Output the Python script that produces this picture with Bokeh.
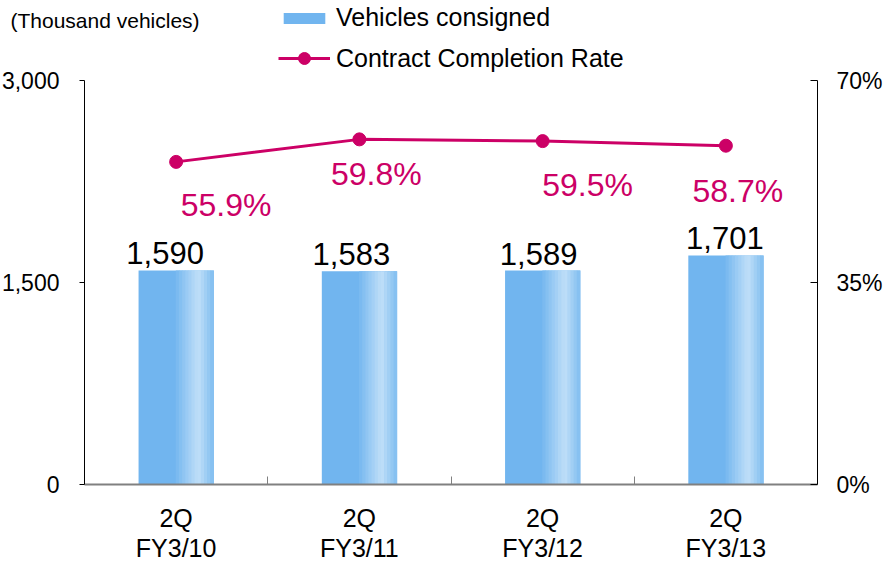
from bokeh.plotting import figure
from bokeh.models import (ColumnDataSource, Range1d, LinearAxis, FixedTicker,
                          NumeralTickFormatter, PrintfTickFormatter, Legend, LegendItem, Label)
from bokeh.transform import dodge
from bokeh.core.properties import value
from bokeh.embed import file_html
from bokeh.resources import INLINE

# ---- data ----
categories = ["2Q\nFY3/10", "2Q\nFY3/11", "2Q\nFY3/12", "2Q\nFY3/13"]
vehicles = [1590, 1583, 1589, 1701]          # thousand vehicles
completion_rate = [55.9, 59.8, 59.5, 58.7]   # %
left_ticks = [0, 1500, 3000]
right_ticks = [0, 35, 70]
left_max, right_max = 3000, 70

# ---- style nudges for labels (screen px) ----
bar_label_dx = [-11, -8, -4, -1]
pct_label_dx = [50, 17, 45, 12]
pct_label_dy = [43, 35, 44, 45]

FONT = "'Liberation Sans', Arial, sans-serif"
PINK = "#CC0066"
BAR_W = 0.41

# ---- layout (px) ----
W, H = 894, 562
AX_L, AX_R = 84, 817      # canvas x of left / right axis
AX_T, AX_B = 80, 484      # canvas y of top tick / baseline
ncat = len(categories)
px_x = (AX_R - AX_L) / ncat
px_y = (AX_B - AX_T) / left_max
x_range = Range1d(-AX_L / px_x, ncat + (W - AX_R) / px_x)
y_range = Range1d(-(H - AX_B) / px_y, left_max + AX_T / px_y)
k = right_max / left_max

xs = [i + 0.5 for i in range(ncat)]
src = ColumnDataSource(dict(
    x=xs, v=vehicles, r=completion_rate,
    vlab=[f"{v:,}" for v in vehicles],
    rlab=[f"{r:.1f}%" for r in completion_rate],
    bdx=bar_label_dx, pdx=pct_label_dx, pdy=pct_label_dy,
))

p = figure(width=W, height=H, x_range=x_range, y_range=y_range,
           output_backend="svg", toolbar_location=None,
           min_border=0, min_border_left=0, min_border_right=0,
           min_border_top=0, min_border_bottom=0, x_axis_type=None, y_axis_type=None)
p.outline_line_color = None
p.grid.grid_line_color = None
p.background_fill_color = "white"
p.border_fill_color = "white"

# bars: base + gradient strips
base = p.vbar(x="x", top="v", width=BAR_W, source=src, fill_color="#71B5EF", line_color=None)

def mix(a, b, t):
    return "#%02x%02x%02x" % tuple(int(round(a[i] + (b[i] - a[i]) * t)) for i in range(3))

c0, c1, c2 = (113, 181, 239), (192, 223, 248), (128, 189, 240)
n = 24
for j in range(n):
    t = (j + 0.5) / n
    if t < 0.48:
        continue
    if t < 0.8:
        col = mix(c0, c1, (t - 0.48) / 0.32)
    else:
        col = mix(c1, c2, (t - 0.8) / 0.2)
    off = -BAR_W / 2 + (j + 0.5) * BAR_W / n
    p.vbar(x=dodge("x", off, range=p.x_range), top="v", width=BAR_W / n * 1.2,
           source=src, fill_color=col, line_color=None)

# right axis range
p.extra_y_ranges = {"pct": Range1d(y_range.start * k, y_range.end * k)}

line_r = p.line(x="x", y="r", y_range_name="pct", source=src, line_color=PINK, line_width=3)
dot_r = p.scatter(x="x", y="r", y_range_name="pct", source=src, marker="circle", size=13,
                  fill_color=PINK, line_color=PINK)

# value labels
p.text(x="x", y="v", text="vlab", x_offset="bdx", y_offset=-6, source=src,
       text_align="center", text_baseline="bottom", text_font=value(FONT),
       text_font_size="31px", text_color="black")
p.text(x="x", y="r", text="rlab", x_offset="pdx", y_offset="pdy", y_range_name="pct", source=src,
       text_align="center", text_baseline="middle", text_font=value(FONT),
       text_font_size="32px", text_color=PINK)

# x axis
xa = LinearAxis(fixed_location=0, bounds=(0, ncat),
                ticker=FixedTicker(ticks=xs, minor_ticks=[1, 2, 3]))
xa.major_label_overrides = {x: c for x, c in zip(xs, categories)}
xa.major_tick_line_color = None
xa.minor_tick_in = 8
xa.minor_tick_out = 0
xa.minor_tick_line_color = "#808080"
xa.axis_line_color = "#808080"
xa.axis_line_width = 2
xa.major_label_text_font = FONT
xa.major_label_text_font_size = "25px"
xa.major_label_text_line_height = 1.1
xa.major_label_standoff = 13
xa.major_label_text_color = "black"
p.add_layout(xa, "below")

# left axis
ya = LinearAxis(fixed_location=0, bounds=(0, left_max), ticker=FixedTicker(ticks=left_ticks),
                formatter=NumeralTickFormatter(format="0,0"))
ya.major_tick_out = 5
ya.major_tick_in = 0
ya.minor_tick_line_color = None
ya.axis_line_color = "black"
ya.major_label_text_font = FONT
ya.major_label_text_font_size = "23px"
ya.major_label_standoff = 20
ya.major_label_text_color = "black"
p.add_layout(ya, "left")

ra = LinearAxis(y_range_name="pct", fixed_location=ncat, bounds=(0, right_max),
                ticker=FixedTicker(ticks=right_ticks),
                formatter=PrintfTickFormatter(format="%d%%"))
ra.major_tick_in = 7
ra.major_tick_out = 0
ra.minor_tick_line_color = None
ra.axis_line_color = "black"
ra.major_label_text_font = FONT
ra.major_label_text_font_size = "23px"
ra.major_label_standoff = 19
ra.major_label_text_color = "black"
p.add_layout(ra, "right")

# legends (location = bottom-left corner, measured from frame bottom-left)
common = dict(orientation="vertical", glyph_width=52, label_standoff=6,
              label_text_font=FONT, label_text_font_size="25px", label_text_color="black",
              label_height=24, padding=0, margin=0,
              background_fill_alpha=0, border_line_color=None)
leg1 = Legend(items=[LegendItem(label="Vehicles consigned", renderers=[base])],
              location=(278, H - 32), glyph_height=14, **common)
leg2 = Legend(items=[LegendItem(label="Contract Completion Rate", renderers=[line_r, dot_r])],
              location=(278, H - 73), glyph_height=30, **common)
p.add_layout(leg1, "center")
p.add_layout(leg2, "center")

p.add_layout(Label(x=10, y=H - 20, x_units="screen", y_units="screen", text="(Thousand  vehicles)",
                   text_font=FONT, text_font_size="21px", text_baseline="middle",
                   text_color="black"))

open("out.html", "w").write(file_html(p, INLINE))
